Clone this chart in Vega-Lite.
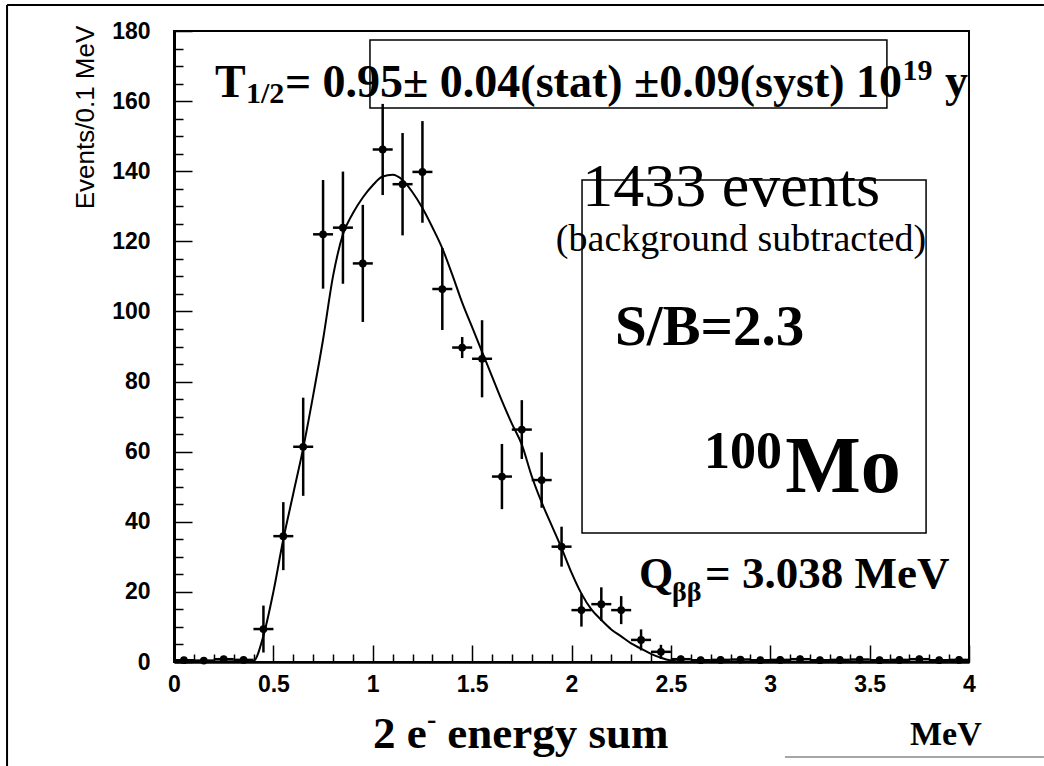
{
  "$schema": "https://vega.github.io/schema/vega-lite/v6.json",
  "width": 795,
  "height": 631,
  "autosize": {"type": "none"},
  "padding": {"left": 174, "top": 31, "right": 75, "bottom": 104},
  "background": "white",
  "config": {"view": {"stroke": "black", "strokeWidth": 2}, "font": "Liberation Sans"},
  "datasets": {
    "pts": [
      {"e": 0.05, "n": 0.5, "err": 0.8},
      {"e": 0.15, "n": 0.4, "err": 0.8},
      {"e": 0.25, "n": 0.8, "err": 0.8},
      {"e": 0.35, "n": 0.6, "err": 0.8},
      {"e": 0.45, "n": 9.4, "err": 6.7},
      {"e": 0.55, "n": 35.9, "err": 9.7},
      {"e": 0.65, "n": 61.4, "err": 14},
      {"e": 0.75, "n": 122, "err": 15.5},
      {"e": 0.85, "n": 123.9, "err": 16},
      {"e": 0.95, "n": 113.7, "err": 16.7},
      {"e": 1.05, "n": 146.2, "err": 13},
      {"e": 1.15, "n": 136.3, "err": 14.6},
      {"e": 1.25, "n": 139.8, "err": 14.5},
      {"e": 1.35, "n": 106.4, "err": 11.7},
      {"e": 1.45, "n": 89.7, "err": 3},
      {"e": 1.55, "n": 86.5, "err": 11},
      {"e": 1.65, "n": 52.9, "err": 9.3},
      {"e": 1.75, "n": 66.3, "err": 8.4},
      {"e": 1.85, "n": 51.9, "err": 7.9},
      {"e": 1.95, "n": 32.9, "err": 5.7},
      {"e": 2.05, "n": 14.8, "err": 4.7},
      {"e": 2.15, "n": 16.5, "err": 4.8},
      {"e": 2.25, "n": 14.8, "err": 4},
      {"e": 2.35, "n": 6.3, "err": 3},
      {"e": 2.45, "n": 2.9, "err": 2},
      {"e": 2.55, "n": 0.8, "err": 1},
      {"e": 2.65, "n": 0.5, "err": 1},
      {"e": 2.75, "n": 0.6, "err": 1},
      {"e": 2.85, "n": 0.7, "err": 1},
      {"e": 2.95, "n": 0.5, "err": 1},
      {"e": 3.05, "n": 0.6, "err": 1},
      {"e": 3.15, "n": 0.8, "err": 1},
      {"e": 3.25, "n": 0.5, "err": 1},
      {"e": 3.35, "n": 0.6, "err": 1},
      {"e": 3.45, "n": 0.7, "err": 1},
      {"e": 3.55, "n": 0.5, "err": 1},
      {"e": 3.65, "n": 0.6, "err": 1},
      {"e": 3.75, "n": 0.8, "err": 1},
      {"e": 3.85, "n": 0.5, "err": 1},
      {"e": 3.95, "n": 0.6, "err": 1}
    ],
    "fit": [
      {"e": 0.0, "n": 0}, {"e": 0.40, "n": 0.3}, {"e": 0.45, "n": 7.5}, {"e": 0.50, "n": 20},
      {"e": 0.55, "n": 35}, {"e": 0.60, "n": 48}, {"e": 0.65, "n": 61}, {"e": 0.70, "n": 76},
      {"e": 0.75, "n": 92}, {"e": 0.80, "n": 110}, {"e": 0.85, "n": 122}, {"e": 0.90, "n": 128},
      {"e": 0.95, "n": 132.5}, {"e": 1.00, "n": 136}, {"e": 1.05, "n": 138.5}, {"e": 1.10, "n": 139},
      {"e": 1.15, "n": 137.5}, {"e": 1.20, "n": 134}, {"e": 1.25, "n": 129.5}, {"e": 1.30, "n": 124},
      {"e": 1.35, "n": 118}, {"e": 1.40, "n": 110.5}, {"e": 1.45, "n": 102.5}, {"e": 1.50, "n": 95.5},
      {"e": 1.55, "n": 88.5}, {"e": 1.60, "n": 81.5}, {"e": 1.65, "n": 74.5}, {"e": 1.70, "n": 68},
      {"e": 1.75, "n": 62}, {"e": 1.80, "n": 53}, {"e": 1.85, "n": 45.5}, {"e": 1.90, "n": 39},
      {"e": 1.95, "n": 32.5}, {"e": 2.00, "n": 25.5}, {"e": 2.05, "n": 19.5}, {"e": 2.10, "n": 15},
      {"e": 2.15, "n": 12}, {"e": 2.20, "n": 9.3}, {"e": 2.25, "n": 7.3}, {"e": 2.30, "n": 5.3},
      {"e": 2.35, "n": 3.8}, {"e": 2.40, "n": 2.3}, {"e": 2.45, "n": 1.2}, {"e": 2.50, "n": 0.4},
      {"e": 2.55, "n": 0}, {"e": 4.0, "n": 0}
    ]
  },
  "resolve": {"axis": {"x": "independent", "y": "independent"}},
  "layer": [
    {
      "data": {"name": "pts"},
      "mark": {"type": "point", "opacity": 0},
      "encoding": {
        "x": {"field": "e", "type": "quantitative", "scale": {"domain": [0, 4], "nice": false},
          "axis": {"orient": "bottom", "title": null, "labels": false, "domain": false, "ticks": false, "zindex": 1,
            "values": [0.1,0.2,0.3,0.4,0.6,0.7,0.8,0.9,1.1,1.2,1.3,1.4,1.6,1.7,1.8,1.9,2.1,2.2,2.3,2.4,2.6,2.7,2.8,2.9,3.1,3.2,3.3,3.4,3.6,3.7,3.8,3.9],
            "grid": true, "gridColor": "black", "gridOpacity": 1, "gridWidth": 1.5, "gridDash": [8, 623], "gridDashOffset": 8}},
        "y": {"field": "n", "type": "quantitative", "scale": {"domain": [0, 180], "nice": false},
          "axis": {"orient": "left", "title": null, "labels": false, "domain": false, "ticks": false, "zindex": 1,
            "values": [5,10,15,25,30,35,45,50,55,65,70,75,85,90,95,105,110,115,125,130,135,145,150,155,165,170,175],
            "grid": true, "gridColor": "black", "gridOpacity": 1, "gridWidth": 1.5, "gridDash": [9, 2000]}}
      }
    },
    {
      "data": {"name": "pts"},
      "mark": {"type": "point", "opacity": 0},
      "encoding": {
        "x": {"field": "e", "type": "quantitative", "scale": {"domain": [0, 4], "nice": false},
          "axis": {"orient": "bottom", "title": null, "labels": false, "domain": false, "ticks": false, "zindex": 1,
            "values": [0,0.5,1,1.5,2,2.5,3,3.5,4],
            "grid": true, "gridColor": "black", "gridOpacity": 1, "gridWidth": 1.5, "gridDash": [17, 614], "gridDashOffset": 17}},
        "y": {"field": "n", "type": "quantitative", "scale": {"domain": [0, 180], "nice": false},
          "axis": {"orient": "left", "title": null, "labels": false, "domain": false, "ticks": false, "zindex": 1,
            "values": [0,20,40,60,80,100,120,140,160,180],
            "grid": true, "gridColor": "black", "gridOpacity": 1, "gridWidth": 1.5, "gridDash": [18, 2000]}}
      }
    },
    {
      "encoding": {
        "x": {"field": "e", "type": "quantitative", "scale": {"domain": [0, 4], "nice": false},
          "axis": {"orient": "bottom", "title": null, "grid": false, "ticks": false, "zindex": 1,
            "values": [0,0.5,1,1.5,2,2.5,3,3.5,4],
            "format": "~g",
            "domainColor": "black", "domainWidth": 2.5,
            "labelFont": "Liberation Sans", "labelFontSize": 23, "labelFontWeight": "bold", "labelColor": "black", "labelPadding": 11,
            "labelOverlap": false, "labelFlush": false, "labelBound": false}},
        "y": {"field": "n", "type": "quantitative", "scale": {"domain": [0, 180], "nice": false},
          "axis": {"orient": "left", "title": "Events/0.1 MeV", "grid": false, "ticks": false, "zindex": 1,
            "titleFont": "Liberation Sans", "titleFontSize": 26, "titleFontWeight": "normal", "titleColor": "black",
            "titleX": -89, "titleY": 86, "titleAlign": "center", "titleBaseline": "middle", "titleAngle": 270,
            "values": [0,20,40,60,80,100,120,140,160,180],
            "domainColor": "black", "domainWidth": 3,
            "labelFont": "Liberation Sans", "labelFontSize": 23, "labelFontWeight": "bold", "labelColor": "black", "labelPadding": 24,
            "labelOverlap": false, "labelFlush": false, "labelBound": false}}
      },
      "layer": [
        {"data": {"name": "fit"}, "mark": {"type": "line", "color": "black", "strokeWidth": 2, "interpolate": "monotone"}},
        {"data": {"name": "pts"}, "mark": {"type": "errorbar", "color": "black", "rule": {"strokeWidth": 2.5}}, "encoding": {"yError": {"field": "err"}}},
        {"data": {"name": "pts"}, "mark": {"type": "tick", "orient": "horizontal", "size": 20, "thickness": 2.5, "color": "black", "opacity": 1}},
        {"data": {"name": "pts"}, "mark": {"type": "circle", "size": 60, "color": "black", "opacity": 1}}
      ]
    },
    {
      "data": {"values": [{}]},
      "layer": [
        {"mark": {"type": "rect", "filled": false, "stroke": "black", "strokeWidth": 1.5},
         "encoding": {"x": {"datum": 0.986, "type": "quantitative", "axis": null}, "x2": {"datum": 3.587}, "y": {"datum": 177.4, "type": "quantitative", "axis": null}, "y2": {"datum": 158.0}}},
        {"mark": {"type": "rect", "filled": false, "stroke": "black", "strokeWidth": 1.5},
         "encoding": {"x": {"datum": 2.053, "type": "quantitative", "axis": null}, "x2": {"datum": 3.784}, "y": {"datum": 137.5, "type": "quantitative", "axis": null}, "y2": {"datum": 36.8}}},
        {"mark": {"type": "rule", "color": "black", "strokeWidth": 2},
         "encoding": {"x": {"datum": -0.84, "type": "quantitative", "axis": null}, "x2": {"datum": 4.377}, "y": {"datum": 187.4, "type": "quantitative", "axis": null}}},
        {"mark": {"type": "rule", "color": "black", "strokeWidth": 2},
         "encoding": {"x": {"datum": -0.84, "type": "quantitative", "axis": null}, "y": {"datum": 187.4, "type": "quantitative", "axis": null}, "y2": {"datum": -29.7}}},
        {"mark": {"type": "rule", "color": "#888888", "strokeWidth": 1.5},
         "encoding": {"x": {"datum": 3.074, "type": "quantitative", "axis": null}, "x2": {"datum": 4.377}, "y": {"datum": -27.1, "type": "quantitative", "axis": null}}},
        {"mark": {"type": "text", "text": "T", "font": "Liberation Serif", "fontWeight": "bold", "fontSize": 46, "align": "left", "baseline": "alphabetic", "color": "black"},
         "encoding": {"x": {"datum": 0.206, "type": "quantitative", "axis": null}, "y": {"datum": 161.2, "type": "quantitative", "axis": null}}},
        {"mark": {"type": "text", "text": "1/2", "font": "Liberation Serif", "fontWeight": "bold", "fontSize": 30, "align": "left", "baseline": "alphabetic", "color": "black"},
         "encoding": {"x": {"datum": 0.362, "type": "quantitative", "axis": null}, "y": {"datum": 159.5, "type": "quantitative", "axis": null}}},
        {"mark": {"type": "text", "text": "= 0.95± 0.04(stat) ±0.09(syst) 10", "font": "Liberation Serif", "fontWeight": "bold", "fontSize": 46, "align": "left", "baseline": "alphabetic", "color": "black"},
         "encoding": {"x": {"datum": 0.558, "type": "quantitative", "axis": null}, "y": {"datum": 161.2, "type": "quantitative", "axis": null}}},
        {"mark": {"type": "text", "text": "19", "font": "Liberation Serif", "fontWeight": "bold", "fontSize": 30, "align": "left", "baseline": "alphabetic", "color": "black"},
         "encoding": {"x": {"datum": 3.665, "type": "quantitative", "axis": null}, "y": {"datum": 166.0, "type": "quantitative", "axis": null}}},
        {"mark": {"type": "text", "text": "y", "font": "Liberation Serif", "fontWeight": "bold", "fontSize": 46, "align": "left", "baseline": "alphabetic", "color": "black"},
         "encoding": {"x": {"datum": 3.879, "type": "quantitative", "axis": null}, "y": {"datum": 161.5, "type": "quantitative", "axis": null}}},
        {"mark": {"type": "text", "text": "1433 events", "font": "Liberation Serif", "fontWeight": "normal", "fontSize": 62, "align": "center", "baseline": "alphabetic", "color": "black"},
         "encoding": {"x": {"datum": 2.803, "type": "quantitative", "axis": null}, "y": {"datum": 130, "type": "quantitative", "axis": null}}},
        {"mark": {"type": "text", "text": "(background subtracted)", "font": "Liberation Serif", "fontWeight": "normal", "fontSize": 38, "align": "center", "baseline": "alphabetic", "color": "black"},
         "encoding": {"x": {"datum": 2.853, "type": "quantitative", "axis": null}, "y": {"datum": 117.2, "type": "quantitative", "axis": null}}},
        {"mark": {"type": "text", "text": "S/B=2.3", "font": "Liberation Serif", "fontWeight": "bold", "fontSize": 57, "align": "left", "baseline": "alphabetic", "color": "black"},
         "encoding": {"x": {"datum": 2.219, "type": "quantitative", "axis": null}, "y": {"datum": 90.4, "type": "quantitative", "axis": null}}},
        {"mark": {"type": "text", "text": "100", "font": "Liberation Serif", "fontWeight": "bold", "fontSize": 52, "align": "left", "baseline": "alphabetic", "color": "black"},
         "encoding": {"x": {"datum": 2.667, "type": "quantitative", "axis": null}, "y": {"datum": 55.3, "type": "quantitative", "axis": null}}},
        {"mark": {"type": "text", "text": "Mo", "font": "Liberation Serif", "fontWeight": "bold", "fontSize": 80, "align": "left", "baseline": "alphabetic", "color": "black"},
         "encoding": {"x": {"datum": 3.075, "type": "quantitative", "axis": null}, "y": {"datum": 48.5, "type": "quantitative", "axis": null}}},
        {"mark": {"type": "text", "text": "Q", "font": "Liberation Serif", "fontWeight": "bold", "fontSize": 44, "align": "left", "baseline": "alphabetic", "color": "black"},
         "encoding": {"x": {"datum": 2.34, "type": "quantitative", "axis": null}, "y": {"datum": 21.1, "type": "quantitative", "axis": null}}},
        {"mark": {"type": "text", "text": "ββ", "font": "Liberation Serif", "fontWeight": "bold", "fontSize": 28, "align": "left", "baseline": "alphabetic", "color": "black"},
         "encoding": {"x": {"datum": 2.506, "type": "quantitative", "axis": null}, "y": {"datum": 17.4, "type": "quantitative", "axis": null}}},
        {"mark": {"type": "text", "text": "= 3.038 MeV", "font": "Liberation Serif", "fontWeight": "bold", "fontSize": 45, "align": "left", "baseline": "alphabetic", "color": "black"},
         "encoding": {"x": {"datum": 2.672, "type": "quantitative", "axis": null}, "y": {"datum": 21.1, "type": "quantitative", "axis": null}}},
        {"mark": {"type": "text", "text": "2 e", "font": "Liberation Serif", "fontWeight": "bold", "fontSize": 45, "align": "left", "baseline": "alphabetic", "color": "black"},
         "encoding": {"x": {"datum": 1.001, "type": "quantitative", "axis": null}, "y": {"datum": -24.5, "type": "quantitative", "axis": null}}},
        {"mark": {"type": "text", "text": "-", "font": "Liberation Serif", "fontWeight": "bold", "fontSize": 28, "align": "left", "baseline": "alphabetic", "color": "black"},
         "encoding": {"x": {"datum": 1.273, "type": "quantitative", "axis": null}, "y": {"datum": -18.8, "type": "quantitative", "axis": null}}},
        {"mark": {"type": "text", "text": "energy sum", "font": "Liberation Serif", "fontWeight": "bold", "fontSize": 45, "align": "left", "baseline": "alphabetic", "color": "black"},
         "encoding": {"x": {"datum": 1.375, "type": "quantitative", "axis": null}, "y": {"datum": -24.5, "type": "quantitative", "axis": null}}},
        {"mark": {"type": "text", "text": "MeV", "font": "Liberation Serif", "fontWeight": "bold", "fontSize": 34, "align": "left", "baseline": "alphabetic", "color": "black"},
         "encoding": {"x": {"datum": 3.703, "type": "quantitative", "axis": null}, "y": {"datum": -23.7, "type": "quantitative", "axis": null}}}
      ]
    }
  ]
}
